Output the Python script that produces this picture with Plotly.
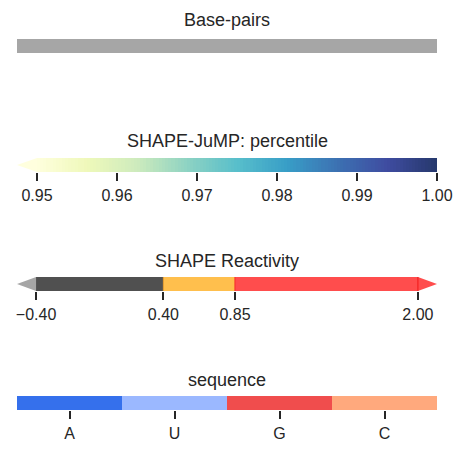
import numpy as np
import plotly.graph_objects as go

# ---------------- data ----------------
basepair_label = "Base-pairs"
basepair_color = "#a6a6a6"

pct_title = "SHAPE-JuMP: percentile"
pct_min, pct_max = 0.95, 1.00
pct_ticks = [0.95, 0.96, 0.97, 0.98, 0.99, 1.00]
pct_ticktext = ["0.95", "0.96", "0.97", "0.98", "0.99", "1.00"]
ylgnbu = ["#ffffd9", "#edf8b1", "#c7e9b4", "#7fcdbb", "#41b6c4",
          "#1d91c0", "#225ea8", "#253494", "#081d58"]

shape_title = "SHAPE Reactivity"
shape_bounds = [-0.40, 0.40, 0.85, 2.00]
shape_colors = ["#505050", "#ffbf4d", "#ff4d4d"]
shape_edge_colors = ["#e09a30", "#f52a2a", "#f01818"]
shape_under = "#a6a6a6"
shape_over = "#ff4d4d"
shape_ticktext = ["\u22120.40", "0.40", "0.85", "2.00"]

seq_title = "sequence"
seq_letters = ["A", "U", "G", "C"]
seq_colors = ["#3570ec", "#9bb8ff", "#f04d4d", "#ffa97d"]

# ---------------- layout helpers ----------------
W, H = 467, 455
FONT = "Liberation Sans"
TXT = "#262626"
EXT = 0.05  # extension fraction (matplotlib colorbar extendfrac)

def fx(px):
    return px / W

def fy(py):
    return 1 - py / H

xdom = [fx(17), fx(437)]
rows = [(39, 53), (158, 172), (277, 291), (396, 410)]
title_y = [20.5, 141, 260.5, 380]

fig = go.Figure()

# Row 1: base pairs
fig.add_trace(go.Bar(x=[0.5], y=[1], width=[1], marker=dict(color=basepair_color, line_width=0),
                     xaxis="x", yaxis="y", hoverinfo="skip", showlegend=False))

# Row 2: percentile gradient (colorbar sampling)
n = 128
edges = np.linspace(pct_min, pct_max, n + 1)
centers = (edges[:-1] + edges[1:]) / 2
cs = [[i / (len(ylgnbu) - 1), c] for i, c in enumerate(ylgnbu)]
fig.add_trace(go.Heatmap(x=edges, y=[0, 1], z=[centers], colorscale=cs, zmin=pct_min, zmax=pct_max,
                         showscale=False, opacity=0.88, xaxis="x2", yaxis="y2", hoverinfo="skip"))
pct_ext = (pct_max - pct_min) * EXT
fig.add_trace(go.Scatter(x=[pct_min, pct_min - pct_ext, pct_min, pct_min], y=[0, 0.5, 1, 0],
                         fill="toself", fillcolor="rgba(255,255,222,1)", mode="none",
                         xaxis="x2", yaxis="y2", hoverinfo="skip", showlegend=False))

# Row 3: SHAPE reactivity
for lo, hi, col in zip(shape_bounds[:-1], shape_bounds[1:], shape_colors):
    fig.add_trace(go.Bar(y=[0.5], x=[hi - lo], base=[lo], width=[1], orientation="h",
                         marker=dict(color=col, line_width=0), xaxis="x3", yaxis="y3",
                         hoverinfo="skip", showlegend=False))
shape_ext = (shape_bounds[-1] - shape_bounds[0]) * EXT
lo0, hi0 = shape_bounds[0], shape_bounds[-1]
fig.add_trace(go.Scatter(x=[lo0, lo0 - shape_ext, lo0, lo0], y=[0, 0.5, 1, 0], fill="toself",
                         fillcolor=shape_under, mode="none", xaxis="x3", yaxis="y3",
                         hoverinfo="skip", showlegend=False))
fig.add_trace(go.Scatter(x=[hi0, hi0 + shape_ext, hi0, hi0], y=[0, 0.5, 1, 0], fill="toself",
                         fillcolor=shape_over, mode="none", xaxis="x3", yaxis="y3",
                         hoverinfo="skip", showlegend=False))
for b, ec in zip(shape_bounds[1:], shape_edge_colors):
    fig.add_trace(go.Scatter(x=[b, b], y=[0, 1], mode="lines", line=dict(color=ec, width=1),
                             xaxis="x3", yaxis="y3", hoverinfo="skip", showlegend=False))

# Row 4: sequence
fig.add_trace(go.Bar(x=seq_letters, y=[1] * len(seq_letters), width=1,
                     marker=dict(color=seq_colors, line_width=0), xaxis="x4", yaxis="y4",
                     hoverinfo="skip", showlegend=False))

tickfont = dict(family=FONT, size=16, color=TXT)
base_x = dict(domain=xdom, showgrid=False, zeroline=False, showline=False, fixedrange=True,
              automargin=False, ticks="outside", ticklen=8, tickwidth=1.6, tickcolor=TXT,
              tickfont=tickfont, ticklabelstandoff=1)
base_y = dict(range=[0, 1], showgrid=False, zeroline=False, showline=False, showticklabels=False,
              ticks="", fixedrange=True, automargin=False)

layout = dict(width=W, height=H, autosize=False,
              margin=dict(l=0, r=0, t=0, b=0, pad=0, autoexpand=False),
              paper_bgcolor="white", plot_bgcolor="rgba(0,0,0,0)", barmode="overlay", bargap=0,
              showlegend=False, font=dict(family=FONT, color=TXT))
names = ["", "2", "3", "4"]
xcfg = [
    dict(range=[0, 1], ticks="", showticklabels=False),
    dict(range=[pct_min - pct_ext, pct_max], tickmode="array", tickvals=pct_ticks, ticktext=pct_ticktext),
    dict(range=[lo0 - shape_ext, hi0 + shape_ext], tickmode="array", tickvals=shape_bounds,
         ticktext=shape_ticktext),
    dict(type="category", range=[-0.5, len(seq_letters) - 0.5]),
]
for i, nm in enumerate(names):
    top, bot = rows[i]
    xa = dict(base_x)
    xa.update(xcfg[i])
    xa["anchor"] = "y" + nm
    ya = dict(base_y)
    ya.update(domain=[fy(bot), fy(top)], anchor="x" + nm)
    layout["xaxis" + nm] = xa
    layout["yaxis" + nm] = ya

titles = [basepair_label, pct_title, shape_title, seq_title]
layout["annotations"] = [dict(text=t, x=fx(227), y=fy(ty), xref="paper", yref="paper",
                              xanchor="center", yanchor="middle", showarrow=False,
                              font=dict(family=FONT, size=18, color=TXT))
                         for t, ty in zip(titles, title_y)]
fig.update_layout(**layout)
fig.write_html("out.html", config={"responsive": False, "displayModeBar": False})

with open("out.html", encoding="utf-8") as f:
    html = f.read()
html = html.replace("<head>", "<head><style>html,body{margin:0;padding:0;overflow:hidden;}</style>", 1)
with open("out.html", "w", encoding="utf-8") as f:
    f.write(html)
